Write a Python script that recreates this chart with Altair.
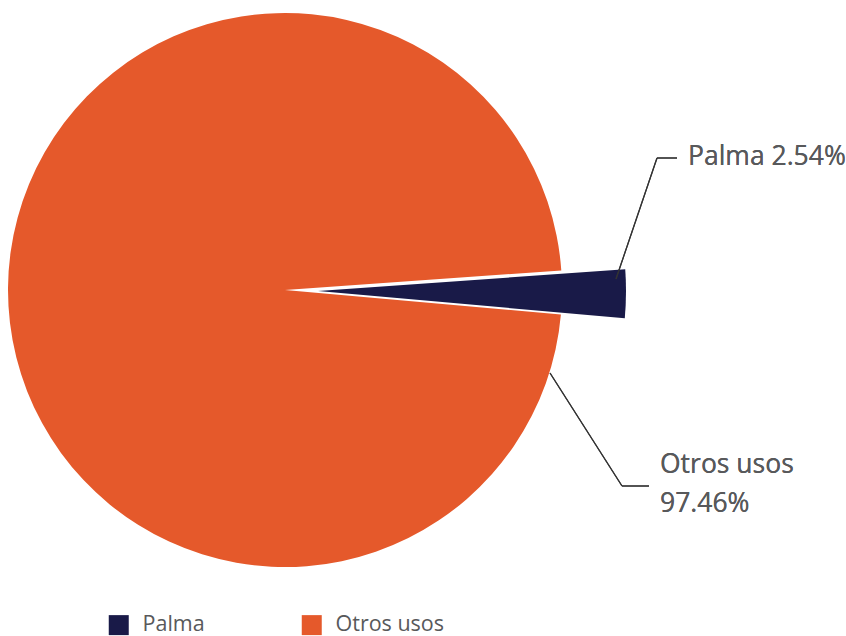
import math
import altair as alt
import pandas as pd

categories = ["Palma", "Otros usos"]
values = [2.54, 97.46]
colors = ["#191a48", "#e5592b"]
order = [0, 1]

df = pd.DataFrame({"category": categories, "value": values, "order": order})

start_angle = 1.5  # radians, Palma centred just below 3 o'clock
theta_scale = alt.Scale(domain=[0, 100], range=[start_angle, start_angle + 2 * math.pi])
color_enc = alt.Color(
    "category:N",
    scale=alt.Scale(domain=categories, range=colors),
    legend=alt.Legend(
        title=None,
        orient="none",
        legendX=108,
        legendY=614,
        direction="horizontal",
        symbolType="square",
        symbolSize=400,
        symbolStrokeWidth=0,
        labelFont="Open Sans",
        labelFontSize=21.5,
        labelColor="#58595b",
        labelOffset=13,
        columnPadding=96,
    ),
)

base = (
    alt.Chart(df)
    .transform_window(cum="sum(value)", sort=[alt.SortField("order")], frame=[None, 0])
    .transform_calculate(start="datum.cum - datum.value")
)

otros = base.transform_filter(alt.datum.category == "Otros usos").mark_arc(radius=277).encode(
    x=alt.value(285),
    y=alt.value(290),
    theta=alt.Theta("start:Q", scale=theta_scale),
    theta2="cum:Q",
    color=color_enc,
)

palma = base.transform_filter(alt.datum.category == "Palma").mark_arc(radius=308).encode(
    x=alt.value(318),
    y=alt.value(291),
    theta=alt.Theta("start:Q", scale=theta_scale),
    theta2="cum:Q",
    color=color_enc,
)

line_color = "#333333"
lines = [
    alt.Chart(df).mark_rule(color=line_color, strokeWidth=1.2).encode(
        x=alt.value(616), y=alt.value(279), x2=alt.value(657), y2=alt.value(158)),
    alt.Chart(df).mark_rule(color=line_color, strokeWidth=1.2).encode(
        x=alt.value(657), y=alt.value(158), x2=alt.value(677), y2=alt.value(158)),
    alt.Chart(df).mark_rule(color=line_color, strokeWidth=1.2).encode(
        x=alt.value(550), y=alt.value(373), x2=alt.value(622), y2=alt.value(486)),
    alt.Chart(df).mark_rule(color=line_color, strokeWidth=1.2).encode(
        x=alt.value(622), y=alt.value(486), x2=alt.value(649), y2=alt.value(486)),
]

def label(txt, x, y):
    return alt.Chart(df).mark_text(
        text=txt, align="left", baseline="alphabetic", font="Open Sans",
        fontSize=26.5, color="#58595b",
    ).encode(x=alt.value(x), y=alt.value(y))

labels = [
    label(f"Palma {values[0]:.2f}%", 688, 165),
    label("Otros usos", 660, 473),
    label(f"{values[1]:.2f}%", 660, 512),
]

chart = (
    alt.layer(otros, palma, *lines, *labels)
    .properties(width=846, height=636, autosize=alt.AutoSizeParams(type="none"), padding=0)
    .configure_view(stroke=None)
)

chart.save("out.html", embed_options={"renderer": "svg", "actions": False})
